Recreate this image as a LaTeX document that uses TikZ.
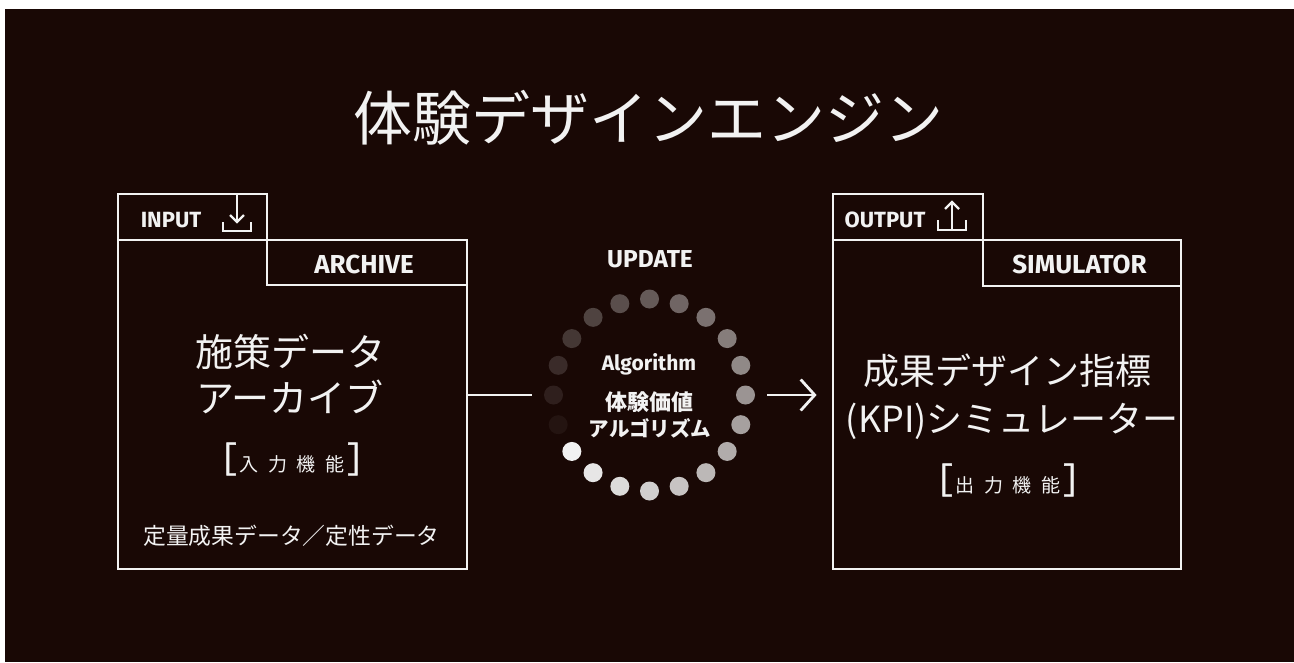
\documentclass[tikz,border=0pt]{standalone}
\usepackage{fontspec}
\setsansfont{Fira Sans}
\newfontfamily\jp{Noto Sans CJK JP}
\newfontfamily\jpbr{Noto Sans CJK JP}[FakeBold=1.2]
\usetikzlibrary{arrows.meta,calc}
\definecolor{bg}{RGB}{25,8,5}
\definecolor{fg}{RGB}{242,242,242}
\newcommand\jbrk[1]{{\jpbr\fontsize{35}{35}\selectfont［}\kern3pt\raisebox{1pt}{#1}\kern3pt{\jpbr\fontsize{35}{35}\selectfont］}}
\begin{document}
\begin{tikzpicture}[x=1pt,y=-1pt,
  frame/.style={draw=fg, line width=2.8pt, inner sep=0pt, rectangle},
  lab/.style={text=fg, inner sep=0pt, anchor=base},
  jtext/.style={text=fg, inner sep=0pt},
  conn/.style={draw=fg, line width=2.8pt},
  icon/.style={draw=fg, line width=2.4pt}
]
\useasboundingbox (0,0) rectangle (1294,662);
\fill[white] (0,0) rectangle (1294,662);
\fill[bg] (5,9) rectangle (1294,662);

% title
\node[jtext, font=\jp\fontsize{59}{59}\selectfont] (title) at (648,118) {体験デザインエンジン};

% left box
\node[frame, minimum width=349pt, minimum height=329pt] (lbox) at (292.5,404.5) {};
\node[frame, minimum width=149pt, minimum height=46pt] (intab) at (192.5,217) {};
\node[frame, minimum width=200pt, minimum height=45pt] (arctab) at (367,262.5) {};
\node[lab, font=\sffamily\bfseries\fontsize{22}{22}\selectfont] (inlab) at (171,227) {INPUT};
\node[lab, font=\sffamily\bfseries\fontsize{26}{26}\selectfont] (arclab) at (364,273) {ARCHIVE};
\draw[icon] (237,195) -- (237,222);
\draw[icon] (230,215) -- (237,222) -- (244,215);
\draw[icon] (223,222) -- (223,231) -- (251,231) -- (251,222);

\node[jtext, font=\jp\fontsize{38}{38}\selectfont] (l1) at (290,352) {施策データ};
\node[jtext, font=\jp\fontsize{38}{38}\selectfont] (l2) at (290,397) {アーカイブ};
\node[jtext, font=\jp\fontsize{19}{19}\selectfont] (l3) at (292,459) {\jbrk{入\kern9.5pt 力\kern9.5pt 機\kern9.5pt 能}};
\node[jtext, font=\jp\fontsize{22.8}{22.8}\selectfont] (l4) at (291.5,536) {定量成果データ／定性データ};

% right box
\node[frame, minimum width=348pt, minimum height=329pt] (rbox) at (1007,404.5) {};
\node[frame, minimum width=150pt, minimum height=46pt] (outtab) at (908,217) {};
\node[frame, minimum width=198pt, minimum height=46pt] (simtab) at (1082,263) {};
\node[lab, font=\sffamily\bfseries\fontsize{22}{22}\selectfont] (outlab) at (885,227) {OUTPUT};
\node[lab, font=\sffamily\bfseries\fontsize{26}{26}\selectfont] (simlab) at (1079.5,273) {SIMULATOR};
\draw[icon] (952,202) -- (952,230);
\draw[icon] (945,209) -- (952,202) -- (959,209);
\draw[icon] (938,220) -- (938,230) -- (966,230) -- (966,220);

\node[jtext, font=\jp\fontsize{36}{36}\selectfont] (r1) at (1007,371) {成果デザイン指標};
\node[jtext, font=\jp\fontsize{36}{36}\selectfont] (r2) at (1012,421) {(KPI)シミュレーター};
\node[jtext, font=\jp\fontsize{19}{19}\selectfont] (r3) at (1008,480) {\jbrk{出\kern9.5pt 力\kern9.5pt 機\kern9.5pt 能}};

% ring
\node[circle, minimum size=235pt, inner sep=0pt] (ring) at (649.5,395) {};
\foreach \k in {0,...,19}{
  \pgfmathtruncatemacro\ang{144-18*\k}
  \pgfmathtruncatemacro\pct{100-5*\k}
  \fill[fg!\pct!bg] ($(ring.center)+(\ang:96)$) circle (9.5);
}
\node[lab, font=\sffamily\bfseries\fontsize{24.5}{24.5}\selectfont] (uplab) at (650,267) {UPDATE};
\node[lab, font=\sffamily\bfseries\fontsize{21}{21}\selectfont] (alg) at (649,370) {Algorithm};
\node[jtext, font=\jp\bfseries\fontsize{22}{22}\selectfont] (c1) at (649,402) {体験価値};
\node[jtext, font=\jp\bfseries\fontsize{20.5}{20.5}\selectfont] (c2) at (650,428.5) {アルゴリズム};

% connectors
\draw[conn] (lbox.east |- ring.west) -- (ring.west);
\draw[conn, -{Straight Barb[length=14pt,width=31pt]}, shorten >=15pt] (ring.east) -- (ring.east -| rbox.west);
\end{tikzpicture}
\end{document}
